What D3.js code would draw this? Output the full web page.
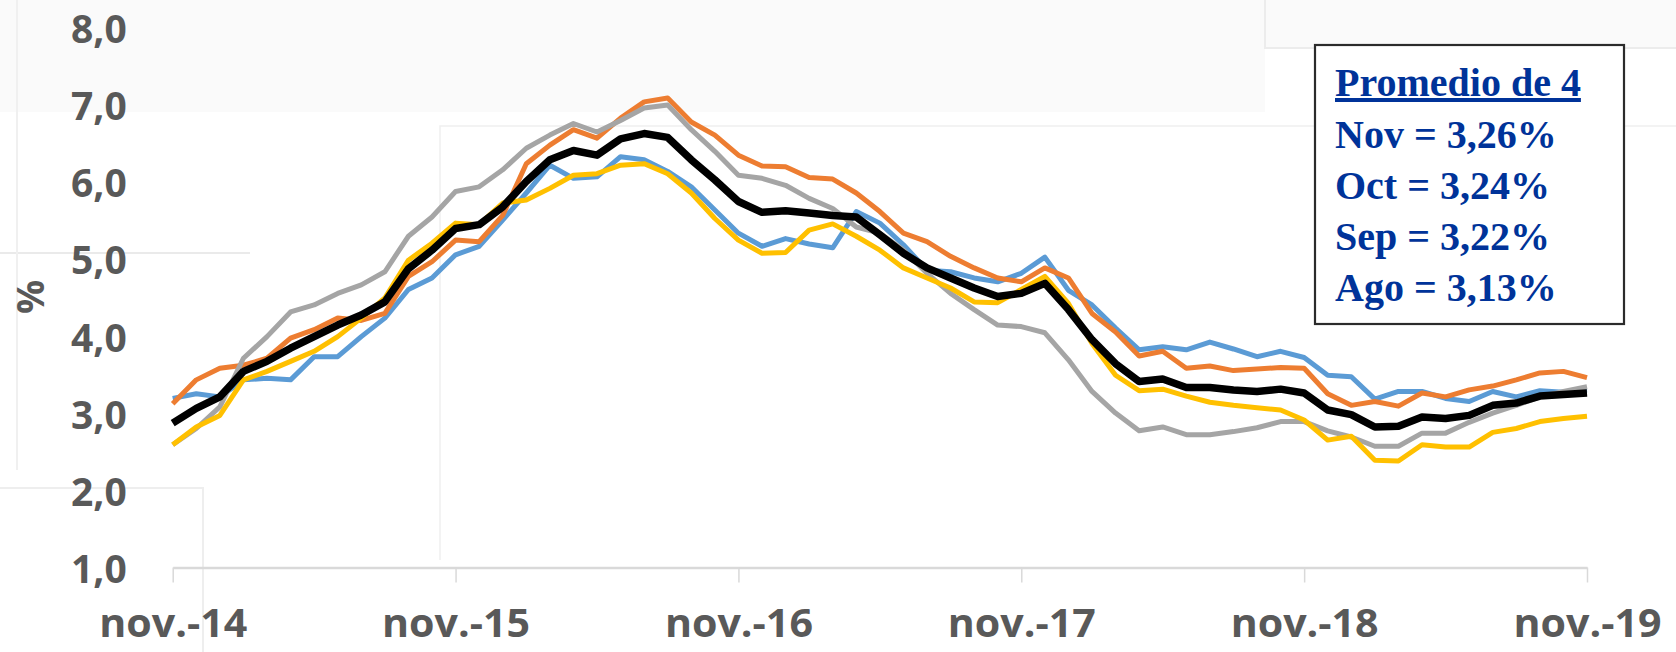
<!DOCTYPE html>
<html><head><meta charset="utf-8">
<script src="https://cdn.jsdelivr.net/npm/d3@7"></script>
<style>
html,body{margin:0;padding:0;background:#fff;}
svg{display:block;}
</style></head>
<body>
<svg id="chart" width="1676" height="652"></svg>
<script>
// ---- data ----
const startMonth = new Date(2014, 10, 1); // nov.-14
const monthNames = ["ene.","feb.","mar.","abr.","may.","jun.","jul.","ago.","sep.","oct.","nov.","dic."];
const categories = d3.range(61).map(i => d3.timeMonth.offset(startMonth, i));
const xTickLabels = ["nov.-14","nov.-15","nov.-16","nov.-17","nov.-18","nov.-19"];
const yTicks = [1,2,3,4,5,6,7,8];

const serieAzul = [3.19,3.25,3.21,3.43,3.45,3.43,3.73,3.73,3.99,4.23,4.60,4.75,5.05,5.16,5.50,5.85,6.21,6.04,6.06,6.32,6.28,6.13,5.93,5.63,5.33,5.16,5.26,5.19,5.14,5.61,5.46,5.18,4.85,4.83,4.75,4.70,4.81,5.02,4.59,4.40,4.10,3.82,3.86,3.82,3.92,3.83,3.73,3.80,3.72,3.49,3.47,3.18,3.28,3.28,3.19,3.15,3.28,3.21,3.29,3.27,3.30];
const serieNaranja = [3.12,3.43,3.58,3.62,3.71,3.97,4.08,4.23,4.20,4.29,4.77,4.96,5.24,5.22,5.56,6.23,6.47,6.67,6.56,6.82,7.03,7.08,6.77,6.60,6.34,6.20,6.19,6.05,6.03,5.85,5.61,5.33,5.22,5.03,4.88,4.75,4.70,4.88,4.75,4.29,4.05,3.74,3.80,3.58,3.61,3.55,3.57,3.59,3.58,3.25,3.10,3.15,3.09,3.26,3.21,3.30,3.35,3.43,3.52,3.54,3.46];
const serieGris = [2.59,2.80,3.08,3.71,3.99,4.31,4.40,4.55,4.66,4.83,5.29,5.54,5.87,5.93,6.15,6.43,6.60,6.75,6.64,6.79,6.95,6.99,6.67,6.39,6.08,6.04,5.95,5.78,5.65,5.41,5.33,5.11,4.81,4.55,4.34,4.14,4.12,4.04,3.69,3.28,3.00,2.77,2.82,2.72,2.72,2.76,2.81,2.89,2.89,2.77,2.69,2.57,2.57,2.74,2.74,2.88,3.00,3.10,3.21,3.28,3.34];
const serieAmarilla = [2.59,2.82,2.97,3.43,3.54,3.67,3.80,3.99,4.23,4.49,4.98,5.20,5.46,5.44,5.72,5.76,5.91,6.08,6.10,6.21,6.23,6.10,5.85,5.52,5.24,5.07,5.08,5.37,5.45,5.29,5.11,4.88,4.75,4.62,4.44,4.43,4.60,4.77,4.42,3.90,3.49,3.29,3.31,3.22,3.14,3.10,3.07,3.04,2.91,2.65,2.70,2.39,2.38,2.59,2.56,2.56,2.75,2.80,2.89,2.93,2.96];
const seriePromedio = [2.87,3.06,3.21,3.54,3.67,3.84,3.99,4.14,4.27,4.44,4.87,5.11,5.39,5.44,5.67,6.00,6.28,6.40,6.34,6.55,6.62,6.57,6.28,6.02,5.74,5.60,5.62,5.59,5.56,5.54,5.31,5.07,4.88,4.75,4.62,4.51,4.55,4.68,4.34,3.95,3.64,3.41,3.44,3.33,3.33,3.30,3.28,3.31,3.26,3.04,2.98,2.82,2.83,2.95,2.93,2.97,3.10,3.13,3.22,3.24,3.26];

const boxTitle = "Promedio de 4";
const boxLines = ["Nov = 3,26%","Oct = 3,24%","Sep = 3,22%","Ago = 3,13%"];

const series = [
  {name:"azul", values:serieAzul, color:"#5B9BD5", width:5},
  {name:"naranja", values:serieNaranja, color:"#ED7D31", width:5},
  {name:"gris", values:serieGris, color:"#A5A5A5", width:5},
  {name:"amarilla", values:serieAmarilla, color:"#FFC000", width:5},
  {name:"promedio", values:seriePromedio, color:"#000000", width:7.5}
];

// ---- layout ----
const svg = d3.select("#chart");

// faint slide background artifacts
const bg = svg.append("g");
bg.append("rect").attr("x",0).attr("y",0).attr("width",1265).attr("height",112).attr("fill","#fafafa");
bg.append("rect").attr("x",1265).attr("y",0).attr("width",411).attr("height",48).attr("fill","#fafafa");
bg.append("path").attr("d","M1265,0V48H1676").attr("fill","none").attr("stroke","#ececec").attr("stroke-width",2);
bg.append("path").attr("d","M440,560V126H1676").attr("fill","none").attr("stroke","#f0f0f0").attr("stroke-width",1.5);
bg.append("path").attr("d","M0,253H250").attr("fill","none").attr("stroke","#eaeaea").attr("stroke-width",2);
bg.append("path").attr("d","M17,0V470").attr("fill","none").attr("stroke","#f0f0f0").attr("stroke-width",2);
bg.append("path").attr("d","M0,488H203V652").attr("fill","none").attr("stroke","#eeeeee").attr("stroke-width",2);

const x = d3.scalePoint().domain(categories.map(d => +d)).range([172.7, 1587]);
const y = d3.scaleLinear().domain([1, 8]).range([567.5, 27]);

// x axis
const novs = categories.filter(d => d.getMonth() === 10);
const xAxis = d3.axisBottom(x)
  .tickValues(novs.map(d => +d))
  .tickSize(15).tickSizeOuter(0).tickPadding(27)
  .tickFormat((d, i) => xTickLabels[i]);
const gx = svg.append("g").attr("transform", `translate(0,${y(1)})`).call(xAxis);
gx.select(".domain").attr("stroke","#d9d9d9").attr("stroke-width",2.5);
gx.selectAll(".tick line").attr("stroke","#d9d9d9").attr("stroke-width",1.5);
gx.selectAll(".tick text")
  .attr("fill","#595959")
  .style("font-family","'Open Sans', sans-serif")
  .style("font-weight","700")
  .style("font-size","39px")
  .attr("dy","0.71em")
  .attr("textLength",148).attr("lengthAdjust","spacingAndGlyphs");

// y axis
const yAxis = d3.axisLeft(y).tickValues(yTicks).tickSize(0).tickPadding(46)
  .tickFormat(d => d3.format(".1f")(d).replace(".", ","));
const gy = svg.append("g").attr("transform", `translate(172.7,0)`).call(yAxis);
gy.select(".domain").remove();
gy.selectAll(".tick text")
  .attr("fill","#595959")
  .style("font-family","'Open Sans', sans-serif")
  .style("font-weight","700")
  .style("font-size","39px")
  .attr("dy","0.39em");

// y title
svg.append("text")
  .attr("transform","translate(31,297) rotate(-90)")
  .attr("text-anchor","middle").attr("dy","0.35em")
  .attr("fill","#595959")
  .style("font-family","'Open Sans', sans-serif").style("font-weight","700").style("font-size","38px")
  .text("%");

// lines
const line = d3.line()
  .x((d, i) => x(+categories[i]))
  .y(d => y(d));
svg.append("g").selectAll("path").data(series).join("path")
  .attr("d", d => line(d.values))
  .attr("fill","none")
  .attr("stroke", d => d.color)
  .attr("stroke-width", d => d.width)
  .attr("stroke-linejoin","round")
  .attr("stroke-linecap","butt");

// info box
const box = svg.append("g");
box.append("rect").attr("x",1315).attr("y",45).attr("width",309).attr("height",279)
  .attr("fill","#fff").attr("stroke","#2b2b2b").attr("stroke-width",2.2);
box.append("text").attr("x",1335).attr("y",96)
  .attr("fill","#003399")
  .style("font-family","'Liberation Serif','Times New Roman',serif").style("font-weight","700").style("font-size","40px")
  .style("text-decoration","underline")
  .text(boxTitle);
box.selectAll("text.l").data(boxLines).join("text").attr("class","l")
  .attr("x",1335).attr("y",(d,i) => 148 + i*51)
  .attr("fill","#003399")
  .style("font-family","'Liberation Serif','Times New Roman',serif").style("font-weight","700").style("font-size","40px")
  .text(d => d);
</script>
</body></html>
